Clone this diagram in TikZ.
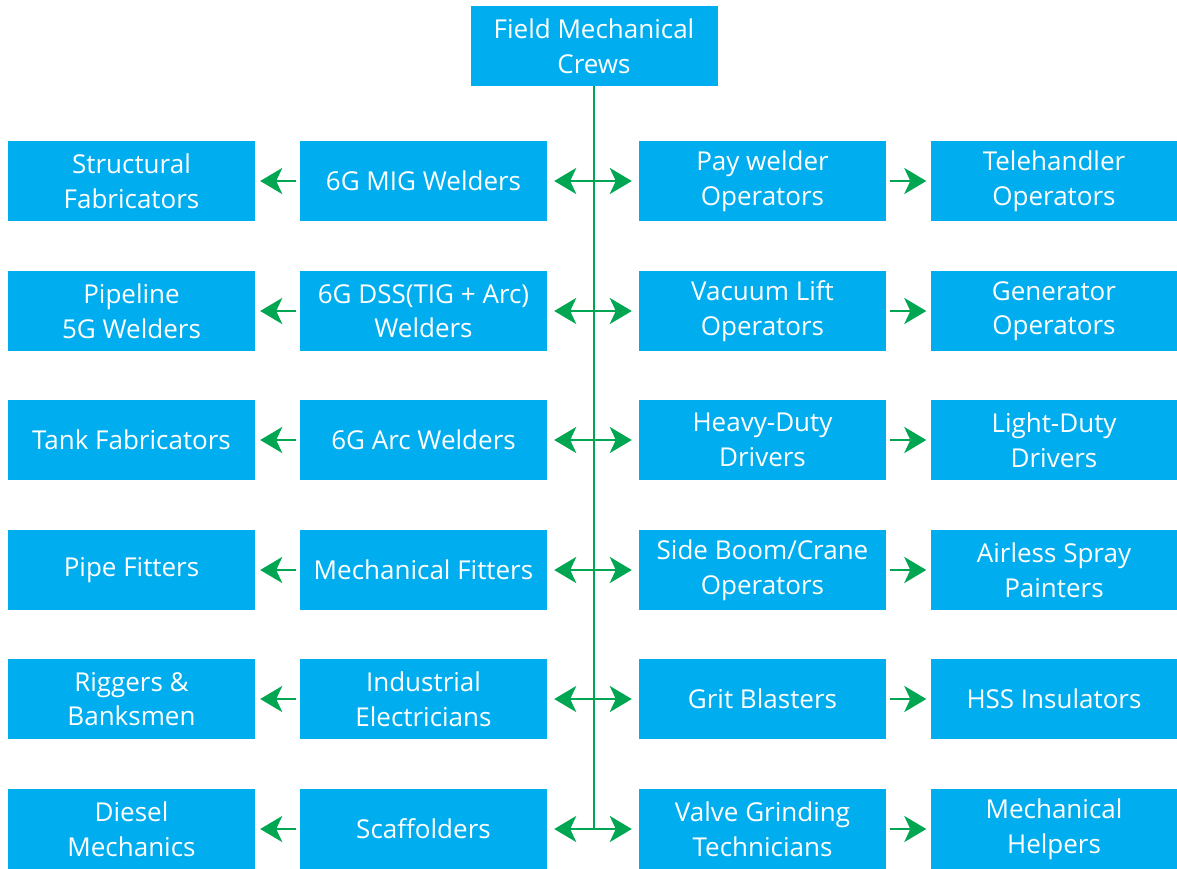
\documentclass[tikz,border=0pt]{standalone}
\usepackage{fontspec}
\setmainfont{Open Sans}
\usetikzlibrary{arrows.meta}
\definecolor{boxblue}{HTML}{00AEEF}
\definecolor{lgreen}{HTML}{00A651}
\begin{document}
\begin{tikzpicture}[x=1pt,y=-1pt,
  box/.style={fill=boxblue,draw=none,text=white,minimum width=247pt,minimum height=80pt,inner sep=0pt,align=center,font=\fontsize{26}{34.5}\selectfont},
  conn/.style={draw=lgreen,line width=2.6pt},
  arr/.style={conn,-{Stealth[length=22pt,width=26pt,inset=6pt]}},
  darr/.style={conn,{Stealth[length=22pt,width=26pt,inset=6pt]}-{Stealth[length=22pt,width=26pt,inset=6pt]}}]
\useasboundingbox (0,0) rectangle (1177,868);
\node[box] (top) at (594,46) {Field Mechanical\\Crews};
\foreach \y/\a/\b/\c/\d [count=\i] in {
  181/{Structural\\Fabricators}/{6G MIG Welders}/{Pay welder\\Operators}/{Telehandler\\Operators},
  311/{Pipeline\\5G Welders}/{6G DSS(TIG + Arc)\\Welders}/{Vacuum Lift\\Operators}/{Generator\\Operators},
  440/{Tank Fabricators}/{6G Arc Welders}/{Heavy-Duty\\Drivers}/{Light-Duty\\Drivers},
  570/{Pipe Fitters}/{Mechanical Fitters}/{Side Boom/Crane\\Operators}/{Airless Spray\\Painters},
  699/{Riggers \&\\Banksmen}/{Industrial\\Electricians}/{Grit Blasters}/{HSS Insulators},
  829/{Diesel\\Mechanics}/{Scaffolders}/{Valve Grinding\\Technicians}/{Mechanical\\Helpers}}{
  \node[box] (a\i) at (131.5,\y) {\a};
  \node[box] (b\i) at (423.5,\y) {\b};
  \node[box] (c\i) at (762.5,\y) {\c};
  \node[box] (d\i) at (1054,\y) {\d};
  \coordinate (m\i) at (594,\y);
  \draw[arr] ([xshift=-4pt]b\i.west) -- ([xshift=5pt]a\i.east);
  \draw[arr] ([xshift=4pt]c\i.east) -- ([xshift=-4pt]d\i.west);
  \draw[darr] ([xshift=7pt]b\i.east) -- ([xshift=-7pt]c\i.west);
}
\draw[conn] (top.south) -- (m6);
\end{tikzpicture}
\end{document}
